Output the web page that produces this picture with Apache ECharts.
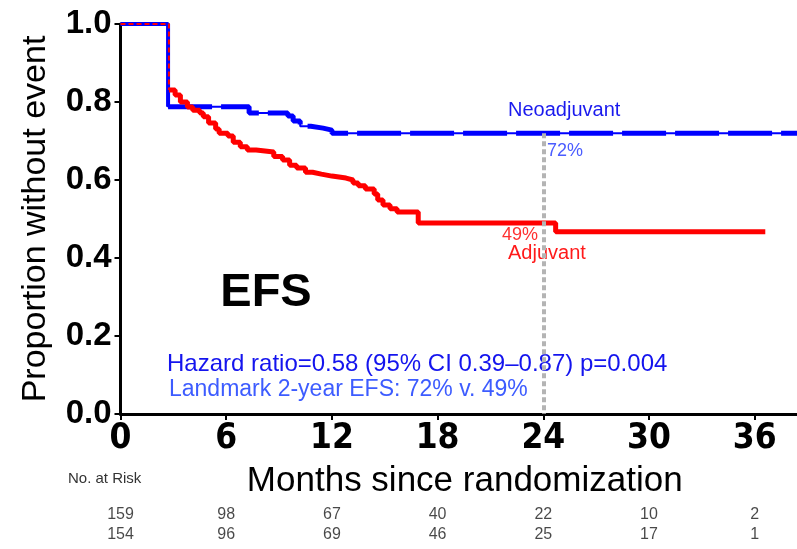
<!DOCTYPE html>
<html>
<head>
<meta charset="utf-8">
<script src="https://cdn.jsdelivr.net/npm/echarts@6/dist/echarts.min.js"></script>
<style>
  html, body { margin: 0; padding: 0; background: #fff; }
  #chart { width: 797px; height: 549px; }
</style>
</head>
<body>
<div id="chart"></div>
<script>
// Kaplan–Meier event-free survival, two arms
const monthTicks = [0, 6, 12, 18, 24, 30, 36];

// Neoadjuvant arm: step start times (months) and proportion without event
const neoTime = [0, 2.7, 7.3, 9.5, 9.8, 10.2, 10.8, 11.5, 12.0, 38.4];
const neoSurv = [1.0, 0.788, 0.772, 0.764, 0.751, 0.738, 0.733, 0.728, 0.72, 0.72];

// Adjuvant arm
const adjTime = [0, 2.75, 3.1, 3.4, 3.8, 4.1, 4.5, 4.7, 5.0, 5.4, 5.6, 6.1, 6.4, 6.8, 7.2, 7.7,
  8.7, 9.2, 9.6, 10.0, 10.5, 10.9, 11.4, 12.0, 12.8, 13.2, 13.5, 13.9, 14.4, 14.6, 14.9, 15.3,
  15.7, 16.9, 24.7, 36.6];
const adjSurv = [1.0, 0.831, 0.818, 0.800, 0.787, 0.779, 0.772, 0.762, 0.746, 0.731, 0.720, 0.713,
  0.697, 0.685, 0.677, 0.672, 0.660, 0.651, 0.638, 0.631, 0.620, 0.615, 0.610, 0.605, 0.600, 0.592,
  0.585, 0.577, 0.564, 0.549, 0.536, 0.526, 0.518, 0.490, 0.467, 0.467];

// Numbers at risk under each month tick
const riskRow1 = [159, 98, 67, 40, 22, 10, 2];
const riskRow2 = [154, 96, 69, 46, 25, 17, 1];

// 2-year landmark
const landmarkMonth = 24;
const neoLandmark = 0.72;
const adjLandmark = 0.49;

const xMax = 38.4;
const BLUE = '#0000ff';
const RED = '#ff0000';
const FONT = '"Liberation Sans", Arial, Helvetica, sans-serif';
const NARROW = '"DejaVu Sans Condensed", "Liberation Sans", sans-serif';

const pairs = (t, s) => t.map((v, i) => [v, s[i]]);
const neo = pairs(neoTime, neoSurv);
const adj = pairs(adjTime, adjSurv);

const chart = echarts.init(document.getElementById('chart'), null, { renderer: 'canvas' });

chart.setOption({
  animation: false,
  backgroundColor: '#fff',
  grid: [
    { left: 120.5, right: 0, top: 24, bottom: 135, containLabel: false },
    { left: 120.5, right: 0, top: 505, height: 40, containLabel: false }
  ],
  xAxis: [
    {
      type: 'value', gridIndex: 0, min: 0, max: xMax,
      name: 'Months since randomization', nameLocation: 'middle', nameGap: 50,
      nameTextStyle: { fontFamily: FONT, fontSize: 35, color: '#000', padding: [0, 0, 0, 12] },
      axisLine: { show: true, onZero: false, lineStyle: { color: '#000', width: 3 } },
      axisTick: { show: true, inside: false, length: 6, customValues: monthTicks, lineStyle: { color: '#000', width: 2 } },
      axisLabel: {
        customValues: monthTicks, margin: 7, color: '#000',
        fontFamily: NARROW, fontWeight: 'bold', fontSize: 35
      },
      splitLine: { show: false }
    },
    { type: 'value', gridIndex: 1, min: 0, max: xMax, show: false }
  ],
  yAxis: [
    {
      type: 'value', gridIndex: 0, min: 0, max: 1, interval: 0.2,
      name: 'Proportion without event', nameLocation: 'middle', nameGap: 68,
      nameTextStyle: { fontFamily: FONT, fontSize: 34, color: '#000' },
      axisLine: { show: true, lineStyle: { color: '#000', width: 3 } },
      axisTick: { show: true, inside: false, length: 6, lineStyle: { color: '#000', width: 2 } },
      axisLabel: {
        margin: 9, color: '#000', fontFamily: FONT, fontWeight: 'bold', fontSize: 33,
        formatter: v => v.toFixed(1)
      },
      splitLine: { show: false }
    },
    { type: 'category', gridIndex: 1, data: ['row1', 'row2'], inverse: true, show: false }
  ],
  series: [
    {
      // landmark guide at 24 months
      type: 'line', xAxisIndex: 0, yAxisIndex: 0, data: [], z: 1, silent: true,
      markLine: {
        silent: true, symbol: 'none', label: { show: false },
        lineStyle: { color: '#b4b4b4', width: 4, type: [5, 3] },
        data: [[{ coord: [landmarkMonth, neoLandmark] }, { coord: [landmarkMonth, 0] }]]
      }
    },
    {
      name: 'Neoadjuvant', type: 'line', step: 'end', data: neo, symbol: 'none',
      lineStyle: { color: BLUE, width: 2 }, z: 2, silent: true
    },
    {
      type: 'line', step: 'end', data: neo.slice(0, 2), symbol: 'none',
      lineStyle: { color: BLUE, width: 4 }, z: 2, silent: true
    },
    {
      type: 'line', step: 'end', data: neo.slice(1), symbol: 'none',
      lineStyle: { color: BLUE, width: 5, type: [44, 9] }, z: 2, silent: true
    },
    {
      name: 'Adjuvant', type: 'line', step: 'end', data: adj.slice(1), symbol: 'none',
      lineStyle: { color: RED, width: 5 }, z: 3, silent: true
    },
    {
      type: 'line', step: 'end', data: adj.slice(0, 2), symbol: 'none',
      lineStyle: { color: RED, width: 2, type: [5, 3] }, z: 4, silent: true
    },
    {
      type: 'scatter', xAxisIndex: 1, yAxisIndex: 1, symbolSize: 1, silent: true,
      itemStyle: { color: 'rgba(0,0,0,0)' },
      data: riskRow1.map((n, i) => [monthTicks[i], 0, n]).concat(riskRow2.map((n, i) => [monthTicks[i], 1, n])),
      label: {
        show: true, position: 'inside', formatter: p => String(p.value[2]),
        fontFamily: FONT, fontSize: 16, color: '#1a1a1a'
      }
    }
  ],
  graphic: [
    { type: 'text', x: 266, y: 293, silent: true,
      style: { text: 'EFS', fill: '#000', font: 'bold 47px ' + FONT, align: 'center', verticalAlign: 'middle' } },
    { type: 'text', x: 508, y: 110, silent: true,
      style: { text: 'Neoadjuvant', fill: '#1a1aee', font: '20px ' + FONT, align: 'left', verticalAlign: 'middle' } },
    { type: 'text', x: 547, y: 151, silent: true,
      style: { text: Math.round(neoLandmark * 100) + '%', fill: '#4a5cff', font: '18px ' + FONT, align: 'left', verticalAlign: 'middle' } },
    { type: 'text', x: 538, y: 235, silent: true,
      style: { text: Math.round(adjLandmark * 100) + '%', fill: '#ff3030', font: '18px ' + FONT, align: 'right', verticalAlign: 'middle' } },
    { type: 'text', x: 508, y: 253, silent: true,
      style: { text: 'Adjuvant', fill: '#ff1a1a', font: '20px ' + FONT, align: 'left', verticalAlign: 'middle' } },
    { type: 'text', x: 167, y: 364, silent: true,
      style: { text: 'Hazard ratio=0.58 (95% CI 0.39\u20130.87) p=0.004', fill: '#1414ee', font: '24px ' + FONT, align: 'left', verticalAlign: 'middle' } },
    { type: 'text', x: 169, y: 390, silent: true,
      style: { text: 'Landmark 2-year EFS: 72% v. 49%', fill: '#3d5cff', font: '23px ' + FONT, align: 'left', verticalAlign: 'middle' } },
    { type: 'text', x: 68, y: 479, silent: true,
      style: { text: 'No. at Risk', fill: '#333', font: '15px ' + FONT, align: 'left', verticalAlign: 'middle' } }
  ]
});
</script>
</body>
</html>
